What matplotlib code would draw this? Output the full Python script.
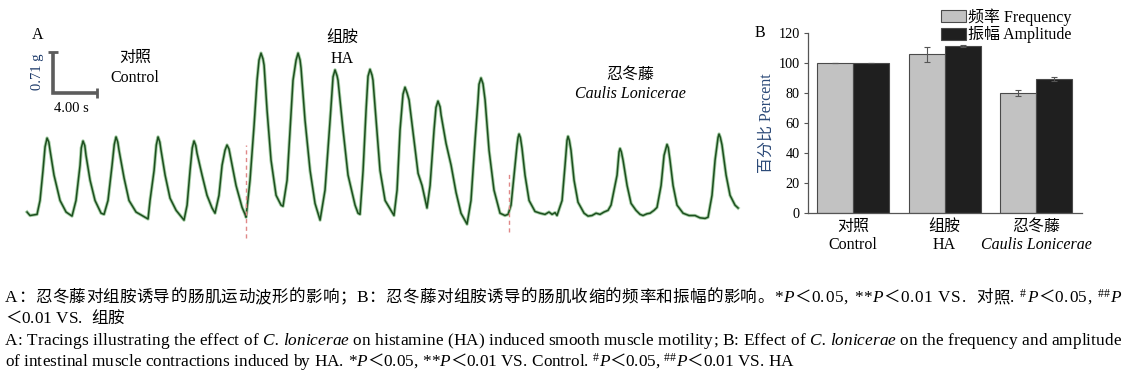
import numpy as np
import matplotlib
matplotlib.use('Agg')
import matplotlib.pyplot as plt
from matplotlib.font_manager import FontProperties

FAMILY = ['Liberation Serif', 'Noto Sans CJK SC']
plt.rcParams['font.family'] = FAMILY

# trace A: time in s, force in g (baseline = 0)
control_t = [0.00, 0.27, 0.91, 1.18, 1.45, 1.64, 1.82, 1.98, 2.09, 2.45, 3.00, 3.55,
             4.09, 4.45, 4.82, 4.93, 5.09, 5.25, 5.36, 5.73, 6.18, 6.73,
             7.00, 7.36, 7.73, 7.93, 8.09, 8.25, 8.36, 8.82, 9.27, 9.91, 10.55, 11.00,
             11.18, 11.55, 11.75, 11.91, 12.07, 12.18, 12.55, 13.00, 13.55, 14.27,
             14.55, 14.82, 15.02, 15.18, 15.34, 15.45, 15.91, 16.36, 16.82, 17.09,
             17.45, 17.73, 18.00, 18.18, 18.36, 18.55, 19.00, 19.55, 19.82, 19.91]
control_g = [0.09, 0.03, 0.05, 0.29, 0.81, 1.22, 1.37, 1.30, 1.16, 0.73, 0.29, 0.09,
             0.02, 0.29, 0.90, 1.20, 1.32, 1.24, 1.07, 0.64, 0.29, 0.07,
             0.05, 0.29, 0.90, 1.26, 1.39, 1.30, 1.16, 0.68, 0.29, 0.09, 0.02, -0.03,
             0.29, 0.81, 1.25, 1.39, 1.30, 1.16, 0.73, 0.33, 0.12, -0.05,
             0.21, 0.81, 1.20, 1.32, 1.24, 1.11, 0.73, 0.38, 0.16, 0.07,
             0.38, 0.90, 1.16, 1.25, 1.18, 0.99, 0.55, 0.17, 0.05, 0.00]

ha_t = [20.27, 20.64, 20.91, 21.09, 21.27, 21.45, 21.55, 21.82, 22.18, 22.64, 23.09, 23.27,
        23.64, 23.91, 24.18, 24.46, 24.64, 24.82, 24.91, 25.27, 25.73, 26.18, 26.64,
        27.09, 27.55, 27.82, 28.00, 28.18, 28.27, 28.73, 29.18, 29.82,
        30.09, 30.27, 30.55, 30.82, 31.00, 31.18, 31.36, 31.45, 31.73, 32.09, 32.55, 33.36,
        33.64, 33.91, 34.18, 34.36, 34.55, 34.73, 35.18, 35.55, 35.91, 36.36,
        36.64, 37.00, 37.18, 37.36, 37.55, 37.64, 38.09, 38.55, 39.00, 39.45, 40.00,
        40.36, 40.73, 41.00, 41.09, 41.27, 41.45, 41.64, 42.00, 42.45, 43.00, 43.45]
ha_g = [0.64, 1.59, 2.37, 2.72, 2.84, 2.74, 2.63, 1.85, 0.99, 0.38, 0.21, 0.19,
        0.64, 1.51, 2.37, 2.72, 2.84, 2.72, 2.58, 1.68, 0.81, 0.24, -0.05,
        0.47, 1.68, 2.43, 2.55, 2.45, 2.37, 1.51, 0.73, 0.21,
        0.07, 0.05, 0.81, 1.85, 2.44, 2.56, 2.46, 2.37, 1.68, 0.81, 0.29, 0.03,
        0.47, 1.51, 2.13, 2.25, 2.15, 2.03, 1.33, 0.76, 0.55, 0.16,
        0.55, 1.51, 1.90, 2.01, 1.91, 1.77, 1.28, 0.90, 0.43, 0.07, -0.12,
        0.29, 1.33, 2.03, 2.30, 2.41, 2.31, 2.03, 1.16, 0.47, 0.07, 0.03]

cl_t = [43.73, 44.00, 44.27, 44.55, 44.64, 44.73, 44.85, 45.00, 45.27, 45.64, 46.18, 46.64,
        47.09, 47.45, 47.73, 48.00, 48.18, 48.64, 48.91, 49.09, 49.18, 49.30, 49.45, 49.73, 50.09, 50.64,
        51.00, 51.36, 51.73, 52.09, 52.45, 52.82, 53.09, 53.64, 53.82, 53.91, 54.03, 54.18, 54.55, 54.91, 55.36,
        55.73, 56.00, 56.36, 56.64, 57.00, 57.27, 57.64, 57.91, 58.09, 58.18, 58.30, 58.45, 58.73, 59.09, 59.64,
        60.18, 60.73, 61.18, 61.64, 61.91, 62.27, 62.55, 62.82, 62.91, 63.03, 63.18, 63.55, 63.91, 64.36, 64.64]
cl_g = [0.05, 0.21, 0.73, 1.25, 1.38, 1.44, 1.38, 1.19, 0.73, 0.29, 0.10, 0.07,
        0.05, 0.09, 0.05, 0.08, 0.03, 0.29, 0.90, 1.33, 1.40, 1.33, 1.16, 0.64, 0.26, 0.07,
        0.02, 0.03, 0.07, 0.05, 0.09, 0.12, 0.21, 0.73, 1.13, 1.19, 1.13, 0.99, 0.55, 0.24, 0.12,
        0.05, 0.03, 0.06, 0.07, 0.12, 0.17, 0.55, 1.07, 1.20, 1.26, 1.20, 0.99, 0.55, 0.21, 0.07,
        0.03, 0.03, -0.01, -0.02, 0.00, 0.38, 0.99, 1.38, 1.44, 1.38, 1.25, 0.73, 0.38, 0.21, 0.16]

# drug added (s)
drug_marks = [19.9, 43.8]
drug_mark_top = [1.25, 0.76]
drug_mark_bottom = [-0.36, -0.26]

# panel B
groups_cn = ['对照', '组胺', '忍冬藤']
groups_en = ['Control', 'HA', 'Caulis Lonicerae']
freq = [100.3, 105.7, 79.8]
freq_err = [0.0, 5.3, 1.9]
amp = [100.0, 111.1, 89.3]
amp_err = [0.0, 0.6, 1.5]

W, H = 1129, 378
fig = plt.figure(figsize=(W / 100, H / 100), dpi=100)


def fx(px):
    return px / W


def fy(py):
    return 1 - py / H


# ---- panel A: tracing ----
ax = fig.add_axes([fx(20), fy(245), fx(745) - fx(20), fy(30) - fy(245)])
ax.set_xlim(-0.64, 65.27)
ax.set_ylim(-0.48, 3.24)
ax.axis('off')

t = np.concatenate([control_t, ha_t, cl_t])
g = np.concatenate([control_g, ha_g, cl_g])
ax.plot(t, g, color='#4f9f4f', lw=2.4, alpha=0.5, solid_joinstyle='round')
ax.plot(t, g, color='#1d4f1f', lw=1.1, solid_joinstyle='round')

for xm, top, bot in zip(drug_marks, drug_mark_top, drug_mark_bottom):
    ax.plot([xm, xm], [bot, top], color='#e08888', lw=1.0, ls=(0, (3, 2.5)))

# scale bar 4 s x 0.71 g
sx, sy = 2.36, 2.15
ax.plot([sx, sx, sx + 4.0], [sy + 0.71, sy, sy], color='#5c5c5c', lw=2.6,
        solid_capstyle='butt', solid_joinstyle='miter')
ax.plot([sx], [sy + 0.71], marker='_', ms=7, mew=2, color='#5c5c5c')
ax.plot([sx + 4.0], [sy], marker='|', ms=7, mew=2, color='#5c5c5c')
ax.text(0.92, sy + 0.36, '0.71 g', rotation=90, ha='center', va='center',
        fontsize=10.5, color='#1c3a6a')
ax.text(sx + 1.7, sy - 0.26, '4.00 s', ha='center', va='center', fontsize=10.5)

ax.text(9.82, 2.75, '对照', ha='center', va='center', fontsize=11.5)
ax.text(9.82, 2.41, 'Control', ha='center', va='center', fontsize=11.5)
ax.text(28.64, 3.10, '组胺', ha='center', va='center', fontsize=11.5)
ax.text(28.64, 2.74, 'HA', ha='center', va='center', fontsize=11.5)
ax.text(54.82, 2.46, '忍冬藤', ha='center', va='center', fontsize=11.5)
ax.text(54.82, 2.13, 'Caulis Lonicerae', ha='center', va='center',
        fontsize=11.5, style='italic')

fig.text(fx(38), fy(35), 'A', ha='center', va='center', fontsize=11.5)

# ---- panel B: bars ----
axb = fig.add_axes([fx(808), fy(213), fx(1082) - fx(808), fy(33) - fy(213)])
x = np.arange(len(groups_cn))
w = 0.393
ek = dict(ecolor='#555555', elinewidth=0.8, capsize=2, capthick=0.8)
axb.bar(x - w / 2, freq, w, yerr=freq_err, color='#c2c2c2', edgecolor='#4a4a4a',
        lw=0.8, error_kw=ek, label='频率 Frequency')
axb.bar(x + w / 2, amp, w, yerr=amp_err, color='#1f1f1f', edgecolor='#4a4a4a',
        lw=0.8, error_kw=ek, label='振幅 Amplitude')
axb.set_xlim(-0.49, 2.5)
axb.set_ylim(0, 120)
axb.set_yticks(range(0, 121, 20))
axb.set_xticks([])
for s in ['top', 'right']:
    axb.spines[s].set_visible(False)
for s in ['left', 'bottom']:
    axb.spines[s].set_color('#555555')
    axb.spines[s].set_linewidth(0.9)
axb.tick_params(axis='y', direction='out', length=3, width=0.8, color='#555555',
                labelsize=10.3, pad=3)

for i, (cn, en) in enumerate(zip(groups_cn, groups_en)):
    axb.text(i, -0.078, cn, transform=axb.get_xaxis_transform(), ha='center',
             va='center', fontsize=11.5)
    axb.text(i, -0.178, en, transform=axb.get_xaxis_transform(), ha='center',
             va='center', fontsize=11.5,
             style='italic' if en == 'Caulis Lonicerae' else 'normal')

fig.text(fx(767), fy(123), '百分比 Percent', rotation=90, ha='center',
         va='center', fontsize=11.5, color='#2c4a78')
fig.text(fx(760), fy(33), 'B', ha='center', va='center', fontsize=11.5)

axb.legend(loc='upper left', bbox_to_anchor=(fx(941), fy(8)),
           bbox_transform=fig.transFigure, frameon=False, fontsize=11.5,
           handlelength=1.56, handleheight=0.8, handletextpad=0.15,
           labelspacing=0.05, borderpad=0, borderaxespad=0)

# ---- caption, laid out character by character ----
renderer = fig.canvas.get_renderer()
LATIN_SIZE = 12.4
CJK_SIZE = 11.9


def advance(c, fp):
    w1 = renderer.get_text_width_height_descent(c + '|', fp, ismath=False)[0]
    w2 = renderer.get_text_width_height_descent('|', fp, ismath=False)[0]
    return w1 - w2


def put_line(y_img, runs, x0=5, x1=None, cjk_stretch=1.0):
    items = []
    for s, style in runs:
        for c in s:
            cjk = ord(c) >= 0x2E80
            sz = CJK_SIZE if cjk else LATIN_SIZE
            if style == 'sup':
                sz *= 0.68
            fp = FontProperties(family=FAMILY, size=sz,
                                style='italic' if style == 'i' else 'normal')
            items.append((c, fp, advance(c, fp), 5 if style == 'sup' else 0,
                          cjk_stretch if cjk else 1.0))
    natural = sum(it[2] for it in items)
    weight = sum(it[4] for it in items[:-1])
    gap = 0 if x1 is None else (x1 - x0 - natural) / weight
    xpos = x0
    for c, fp, adv, dy, wt in items:
        if c != ' ':
            fig.text(fx(xpos), fy(y_img - dy), c, fontproperties=fp,
                     ha='left', va='baseline')
        xpos += adv + gap * wt


put_line(302, [('A：忍冬藤对组胺诱导的肠肌运动波形的影响；B：忍冬藤对组胺诱导的肠肌收缩的频率和振幅的影响。', 'n'),
               ('*', 'n'), ('P', 'i'), ('＜0.05, **', 'n'), ('P', 'i'),
               ('＜0.01 VS.  对照. ', 'n'), ('#', 'sup'), ('P', 'i'),
               ('＜0.05, ', 'n'), ('##', 'sup'), ('P', 'i')], x1=1121, cjk_stretch=0.6)
put_line(323, [('＜0.01 VS.  组胺', 'n')])
put_line(345, [('A: Tracings illustrating the effect of ', 'n'), ('C. lonicerae', 'i'),
               (' on histamine (HA) induced smooth muscle motility; B: Effect of ', 'n'),
               ('C. lonicerae', 'i'), (' on the frequency and amplitude', 'n')], x1=1121)
put_line(366, [('of intestinal muscle contractions induced by HA. ', 'n'),
               ('*', 'n'), ('P', 'i'), ('＜0.05, **', 'n'), ('P', 'i'),
               ('＜0.01 VS. Control. ', 'n'), ('#', 'sup'), ('P', 'i'),
               ('＜0.05, ', 'n'), ('##', 'sup'), ('P', 'i'), ('＜0.01 VS. HA', 'n')])

fig.savefig('out.png', dpi=100)
